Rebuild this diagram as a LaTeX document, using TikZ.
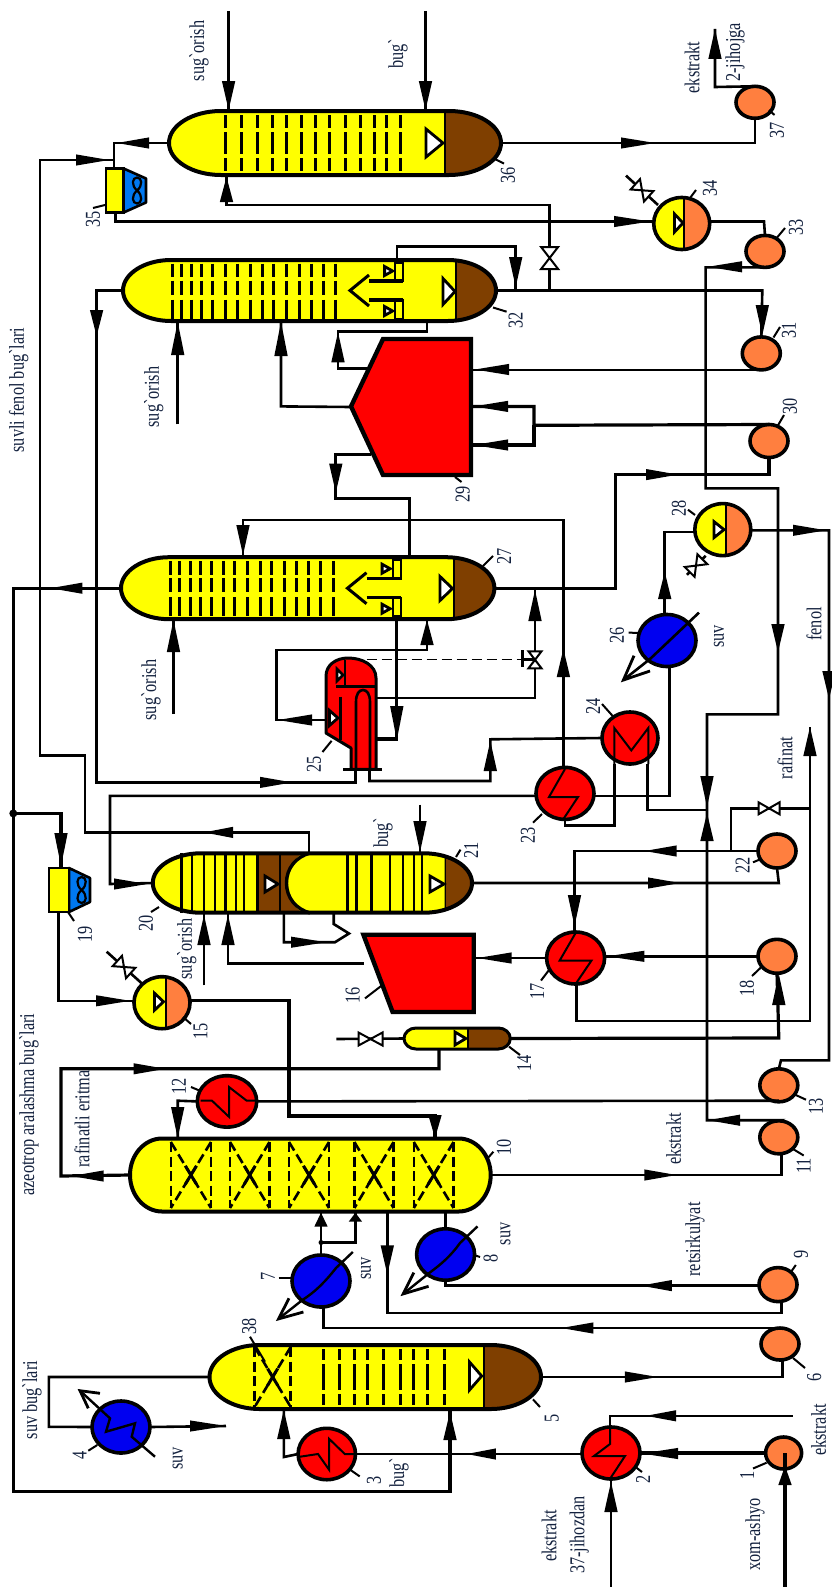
\documentclass[tikz,border=0pt]{standalone}
\usepackage{fontspec}
\usetikzlibrary{shapes.geometric,calc}
\newfontfamily\lblfont{Liberation Serif}
\definecolor{ycol}{HTML}{FFFF00}
\definecolor{bcol}{HTML}{7F3F00}
\definecolor{rcol}{HTML}{FF0000}
\definecolor{ocol}{HTML}{FF7F3F}
\definecolor{hblue}{HTML}{0000F0}
\definecolor{fblue}{HTML}{0078F0}
\definecolor{txtc}{HTML}{14223F}
\tikzset{
 pipe/.style={draw=black,line width=2.6pt,line join=miter},
 thinpipe/.style={draw=black,line width=2pt},
 fatpipe/.style={draw=black,line width=3.2pt},
 vline/.style={draw=black,line width=4pt,line join=round},
 anchorbox/.style={rectangle,inner sep=0pt,outer sep=0pt,draw=none},
 ballsty/.style={ellipse,inner sep=0pt,outer sep=0pt,draw=black,line width=3.6pt},
 tray/.style={line width=3pt,draw=black},
 packd/.style={line width=2.6pt,draw=black,dash pattern=on 10pt off 4.5pt},
 lbl/.style={rotate=90,yscale=1.3,font=\lblfont\fontsize{16.3}{16.3}\selectfont,text=txtc,inner sep=0pt,outer sep=0pt},
 leader/.style={draw=black,line width=2pt},
 tristy/.style={draw=black,fill=white,line width=2.8pt,line join=miter},
 zig/.style={draw=black,line width=2pt,line join=miter},
}
% arrow head: tip x, tip y, angle, length
\newcommand\ah[4]{\pgfmathsetmacro\ahw{5.6+abs(sin(#3))*1.1}\fill[black,shift={(#1,#2)},rotate=#3] (0,0) -- (-#4,\ahw) -- (-#4,-\ahw) -- cycle;}
% valve: x, y, angle, half length, half width
\newcommand\valve[5]{\draw[draw=black,fill=white,line width=2pt,line join=miter,shift={(#1,#2)},rotate=#3] (0,0) -- (-#4,#5) -- (-#4,-#5) -- cycle (0,0) -- (#4,#5) -- (#4,-#5) -- cycle;}
% vessel: name x1 x2 yc ry rx split
\newcommand\vesselbody[7]{%
 \pgfmathsetmacro\vA{#2+#6}\pgfmathsetmacro\vB{#3-#6}%
 \pgfmathsetmacro\vT{#4-#5}\pgfmathsetmacro\vBt{#4+#5}%
 \pgfmathsetmacro\vCa{#3-0.45*#6}\pgfmathsetmacro\vCb{#2+0.45*#6}%
 \pgfmathsetmacro\vUp{#4-0.55*#5}\pgfmathsetmacro\vDn{#4+0.55*#5}%
 \pgfmathsetmacro\vW{#3-#2}\pgfmathsetmacro\vH{2*#5}\pgfmathsetmacro\vCx{(#3+#2)/2}%
 \def\vpath{(\vA,\vT) -- (\vB,\vT) .. controls (\vCa,\vT) and (#3,\vUp) .. (#3,#4) .. controls (#3,\vDn) and (\vCa,\vBt) .. (\vB,\vBt) -- (\vA,\vBt) .. controls (\vCb,\vBt) and (#2,\vDn) .. (#2,#4) .. controls (#2,\vUp) and (\vCb,\vT) .. (\vA,\vT) -- cycle}%
 \fill[ycol] \vpath;
 \begin{scope}\clip \vpath; \fill[bcol] (#7,\vT) rectangle (#3,\vBt); \draw[line width=2pt] (#7,\vT) -- (#7,\vBt); \end{scope}
 \node[anchorbox,minimum width=\vW pt,minimum height=\vH pt] (#1) at (\vCx,#4) {};
}
\newcommand\trays[8]{\foreach \tx in {#1}{\foreach \ta/\tb in {#3/#4,#5/#6,#7/#8}{\draw[tray] (\tx,#2+\ta) -- (\tx,#2+\tb);}}}
\newcommand\solidtrays[3]{\foreach \tx in {#1}{\draw[line width=2.4pt] (\tx,#2) -- (\tx,#3);}}
\newcommand\tri[4]{\draw[tristy] (#1,#3-#4) -- (#2,#3) -- (#1,#3+#4) -- cycle;}
\newcommand\baffle[2]{%
 \draw[line width=2pt,fill=ycol] (#1-8,#2-28) rectangle (#1,#2-9.5);
 \draw[line width=2pt,fill=ycol] (#1-8,#2+9.5) rectangle (#1,#2+28);
 \draw[line width=3.2pt] (#1-34,#2-9.5) -- (#1,#2-9.5);
 \draw[line width=3.2pt] (#1-34,#2+9.5) -- (#1,#2+9.5);
 \draw[line width=3pt] (#1-34,#2-15.5) -- (#1-53,#2) -- (#1-34,#2+15.5);
 \tri{#1-18.4}{#1-10.4}{#2-19.5}{4.5}
 \tri{#1-18.4}{#1-10.4}{#2+20.5}{4.5}
}
\newcommand\packing[4]{% x1 x2 yc h
 \draw[packd] (#1,#3-#4) -- (#1,#3+#4);
 \draw[packd] (#2,#3-#4) -- (#2,#3+#4);
 \draw[packd] (#1,#3-#4) -- (#2,#3+#4);
 \draw[packd] (#2,#3-#4) -- (#1,#3+#4);
 \draw[line width=3pt] ($(#1,#3-#4)!0.36!(#2,#3+#4)$) -- ($(#1,#3-#4)!0.64!(#2,#3+#4)$);
 \draw[line width=3pt] ($(#2,#3-#4)!0.36!(#1,#3+#4)$) -- ($(#2,#3-#4)!0.64!(#1,#3+#4)$);
}
\newcommand\ball[6]{\pgfmathsetmacro\bW{2*#4}\pgfmathsetmacro\bH{2*#5}\node[ballsty,fill=#6,minimum width=\bW pt,minimum height=\bH pt] (#1) at (#2,#3) {};}
\newcommand\drum[6]{% name cx cy rx ry split
 \fill[ycol] (#2,#3) ellipse [x radius=#4pt,y radius=#5pt];
 \begin{scope}\clip (#2,#3) ellipse [x radius=#4pt,y radius=#5pt]; \fill[ocol] (#6,#3-#5) rectangle (#2+#4,#3+#5); \end{scope}
 \draw[line width=2pt] (#6,#3-#5) -- (#6,#3+#5);
 \pgfmathsetmacro\bW{2*#4}\pgfmathsetmacro\bH{2*#5}\node[ballsty,minimum width=\bW pt,minimum height=\bH pt] (#1) at (#2,#3) {};}
\newcommand\cooler[5]{% name, left, middle, right, yc
 \pgfmathsetmacro\cT{#5-22}\pgfmathsetmacro\cB{#5+22}\pgfmathsetmacro\cS{#5-12}\pgfmathsetmacro\cE{#5+12}%
 \draw[fill=fblue,line width=2.6pt,line join=round] (#3,\cT) -- (#4,\cS) -- (#4,\cE) -- (#3,\cB) -- cycle;
 \draw[fill=ycol,line width=2.6pt] (#2,\cT) rectangle (#3,\cB);
 \pgfmathsetmacro\cx{#3+(#4-#3)*0.6}%
 \draw[line width=2.2pt] (\cx,#5) .. controls (\cx+6,#5-5) and (\cx+5,#5-13) .. (\cx,#5-13) .. controls (\cx-5,#5-13) and (\cx-6,#5-5) .. (\cx,#5) .. controls (\cx+6,#5+5) and (\cx+5,#5+13) .. (\cx,#5+13) .. controls (\cx-5,#5+13) and (\cx-6,#5+5) .. (\cx,#5);
 \pgfmathsetmacro\cW{#4-#2}\pgfmathsetmacro\cM{(#4+#2)/2}%
 \node[anchorbox,minimum width=\cW pt,minimum height=44pt] (#1) at (\cM,#5) {};
}
\begin{document}
\begin{tikzpicture}[x=1pt,y=-1pt]
\useasboundingbox (0,0) rectangle (832,1587);
\fill[white] (0,0) rectangle (832,1587);

%%%%%%%% columns
% 36
\vesselbody{v36}{169}{501}{143}{32}{52}{444.5}
\trays{225,241,257,272,286.5,301,315,329,345,360,374,386,400}{143}{-28}{-15}{-11}{11}{15}{28}
\tri{426}{443}{143}{14}
\draw[vline] \vpath;
% 32
\vesselbody{v32}{123}{496}{290.5}{30.5}{48}{456}
\trays{172,181.4,191,201.6,212,225,237.7,250.4,262,273.7,286.5,299,311,323.6,335.3}{290.5}{-27}{-13.5}{-10}{4}{9}{28}
\baffle{403}{290.5}
\tri{443}{455}{291.5}{13}
\draw[vline] \vpath;
% 27
\vesselbody{v27}{121}{494.4}{588.2}{31}{48}{453.6}
\trays{170,179,190,200.5,211,223,234.5,247,260,271.6,284,296,308.7,320.4,333}{588.2}{-27}{-13.5}{-10}{4}{9}{28}
\baffle{400.5}{588.2}
\tri{440}{452.5}{588.5}{12}
\draw[vline] \vpath;
% 20/21
\vesselbody{v20}{152.8}{472}{883}{29.7}{48}{444.5}
\begin{scope}\clip \vpath;
 \fill[bcol] (257.3,850) rectangle (320,916);
 \fill[ycol] (318,850) .. controls (298,850) and (286.5,866) .. (286.5,883) .. controls (286.5,900) and (298,916) .. (318,916) -- (444.5,916) -- (444.5,850) -- cycle;
\end{scope}
\draw[line width=3.4pt] (310,853) .. controls (296,857) and (286.5,868) .. (286.5,883) .. controls (286.5,898) and (296,909) .. (310,913);
\draw[line width=2pt] (279.6,853.3) -- (279.6,912.7);
\draw[line width=2.6pt] (257.3,853.3) -- (257.3,912.7);
\solidtrays{181.4,192,203.7,214.9,225.5,236,244}{853.3}{912.7}
\solidtrays{347.5,356.5,371.4,390,403,413.8,421.7}{853.3}{912.7}
\tri{265}{278}{884}{8}
\tri{430}{444}{884}{8}
\draw[vline] \vpath;
% 10
\vesselbody{v10}{130}{490.7}{1175}{36.5}{32}{492}
\packing{170.8}{211}{1175}{33}
\packing{230}{269.5}{1175}{33}
\packing{289}{329}{1175}{33}
\packing{354.4}{393.6}{1175}{33}
\packing{413.8}{453.6}{1175}{33}
\draw[vline] \vpath;
% 5
\vesselbody{v5}{209.5}{541}{1377}{32}{50}{483.8}
\packing{254.6}{290.7}{1377}{30}
\trays{323.6,339.5,354.4,367,383,400.5,413.8,427,444.5}{1377}{-28}{-17}{-13}{13}{17}{28}
\tri{469.5}{481.7}{1376}{14}
\draw[vline] \vpath;
% 14
\vesselbody{v14}{404}{510.3}{1038.5}{10.5}{12}{468}
\tri{455}{465.8}{1038.5}{6.5}
\draw[line width=3pt] \vpath;

%%%%%%%% 29, 16
\draw[fill=rcol,line width=4.4pt,line join=miter] (351,406.4) -- (383,339) -- (471,339) -- (471,475) -- (383,475) -- cycle;
\node[anchorbox,minimum width=120pt,minimum height=136pt] (v29) at (411,407) {};
\draw[fill=rcol,line width=4.4pt,line join=miter] (363.4,934.7) -- (473.7,934.7) -- (473.7,1012) -- (392.6,1012) -- cycle;
\node[anchorbox,minimum width=110pt,minimum height=77pt] (v16) at (418.5,973.4) {};

%%%%%%%% 25
\draw[fill=rcol,line width=3pt,line join=round] (326,676) .. controls (326,665) and (336,658) .. (348,658) .. controls (362,658) and (376,665) .. (376,678) -- (376,769.3) -- (351,769.3) -- (351,748) -- (326,733) -- cycle;
\draw[line width=3.2pt] (336,686.7) -- (376,686.7);
\draw[line width=2.6pt] (345,660) -- (345,686.7);
\draw[line width=2.6pt,fill=white] (337,669) -- (343,675) -- (337,681) -- cycle;
\draw[line width=3pt] (340,696.7) -- (340,740);
\draw[line width=2.6pt] (356,769.3) -- (356,702) .. controls (356,694) and (359,690) .. (363,690) .. controls (367,690) and (370,694) .. (370,702) -- (370,769.3);
\tri{329.5}{338}{718}{7.5}
\draw[line width=3.2pt] (343.3,769.3) -- (381.7,769.3);
\node[anchorbox,minimum width=50pt,minimum height=111pt] (v25) at (351,714) {};

%%%%%%%% heat exchangers
\ball{e2}{611}{1453}{29}{26}{rcol}
\draw[zig] (610,1427) -- (610,1444) -- (594,1456) -- (625,1456) -- (610,1478.8);
\ball{e3}{326.8}{1454}{28.7}{25.7}{rcol}
\draw[zig] (298,1457) -- (318,1454) -- (329,1469.6) -- (329,1438.7) -- (344.8,1454) -- (355.4,1454);
\ball{e12}{227}{1101.4}{29.7}{25.7}{rcol}
\draw[zig] (200.5,1100.7) -- (212,1100.7) -- (229,1116.8) -- (229,1087) -- (246.7,1100.7) -- (256.8,1100.7);
\ball{e17}{575.6}{958}{29}{26}{rcol}
\draw[zig] (575.6,933) -- (559.7,960.5) -- (591.5,960.5) -- (575.6,984);
\ball{e23}{565}{793.4}{29}{26}{rcol}
\draw[zig] (565,769) -- (549,797) -- (578,797) -- (563.4,819);
\ball{e24}{630}{738}{28}{26}{rcol}
\draw[zig] (614.3,764) -- (614.3,728) -- (631.3,750.4) -- (648.3,728) -- (648.3,764);
\ball{e4}{121}{1427}{29}{26}{hblue}
\ball{e7}{321}{1281}{29}{26}{hblue}
\ball{e8}{445.6}{1254.5}{29}{25.7}{hblue}
\ball{e26}{667}{640.5}{29}{26}{hblue}
% internals of water coolers with their open arrows
\draw[zig,line width=2.4pt] (80,1390.7) -- (110,1418.3) -- (106,1431.7) -- (135,1423.3) -- (131.7,1436.7) -- (155,1456.7);
\draw[line width=2.8pt] (100,1393.3) -- (80,1390.7) -- (88.3,1408.3);
\draw[line width=2.4pt] (352.8,1252) -- (336,1268) .. controls (325,1282) and (315,1292) .. (302.4,1300) -- (278.5,1318.9);
\draw[line width=2.8pt] (289,1298.3) -- (278.5,1318.9) -- (303.4,1312);
\draw[line width=2.4pt] (477.5,1226.4) -- (460,1243) .. controls (450,1257) and (440,1265) .. (429.7,1272.6) -- (403.2,1293.9);
\draw[line width=2.8pt] (413.8,1272.6) -- (403.2,1293.9) -- (428.6,1286.3);
\draw[line width=2.6pt] (699,612.6) -- (650,659) -- (623.4,680);
\draw[line width=2.8pt] (634,655.7) -- (623.4,680) -- (650,671);

%%%%%%%% drums
\drum{d34}{681.7}{223.5}{28}{26}{684}
\tri{674.5}{683}{223}{9}
\drum{d28}{722.8}{529.6}{28}{26}{725.7}
\tri{714}{724}{529.6}{8}
\drum{d15}{162}{1002.7}{28}{26}{165.5}
\tri{154.5}{163.5}{1001.7}{8.5}

%%%%%%%% pumps
\ball{p1}{783.6}{1453}{18}{16}{ocol}
\ball{p6}{780}{1344}{19}{16}{ocol}
\ball{p9}{778}{1284.6}{19}{17}{ocol}
\ball{p11}{778.8}{1137.3}{19}{16.5}{ocol}
\ball{p13}{778.8}{1085.3}{19}{16.5}{ocol}
\ball{p18}{777}{956.3}{19}{17}{ocol}
\ball{p22}{777}{851}{19}{17}{ocol}
\ball{p30}{769}{441}{19}{16.5}{ocol}
\ball{p31}{761.3}{353.4}{19}{16.5}{ocol}
\ball{p33}{765}{251.4}{19}{16}{ocol}
\ball{p37}{755}{102.3}{19}{16}{ocol}

%%%%%%%% air coolers
\cooler{c35}{106}{123.6}{146}{190.5}
\cooler{c19}{49}{69}{90}{890}

%%%%%%%% free ends
\coordinate (f1) at (228.6,11);
\coordinate (f2) at (425.5,11);
\coordinate (f3) at (177.7,424.3);
\coordinate (f4) at (173.5,714.2);
\coordinate (f5) at (420,804.5);
\coordinate (f6) at (204,985.3);
\coordinate (f7) at (226,1426);
\coordinate (f8) at (793,1415.8);
\coordinate (f9) at (611,1587);
\coordinate (f10) at (785,1587);
\coordinate (f11) at (715,29);
\coordinate (j1) at (13.3,813.4);
\coordinate (j2) at (321,1242.5);

%%%%%%%% connectors
% top of 36
\draw[pipe] (f1) -- (228.6,0 |- v36.north); \ah{228.6}{110}{-90}{29}
\draw[pipe] (f2) -- (425.5,0 |- v36.north); \ah{425.5}{110}{-90}{29}
\draw[pipe] (v36.west) -- (114,143) -- (c35.north -| 114,0); \ah{117}{143}{180}{32}
\draw[pipe] (114,160) -- (40,160) -- (40,755.6) -- (85,755.6) -- (85,832.4) -- (309,832.4) -- (309,0 |- v20.north); \ah{109}{160}{0}{33} \ah{204}{832.4}{180}{29}
\draw[pipe] (115.6,213) -- (115.6,221.5) -- (d34.west |- 0,221.5); \ah{650}{221.5}{0}{36}
\draw[pipe] (d34.east |- 0,221.5) -- (764,221.5) -- (p33.north); 
\draw[pipe] (p33.south) -- (705.6,267.4) -- (705.6,488.3) -- (778,488.3) -- (778,714.3) -- (707,714.3) -- (707,1120.2) -- (780,1120.2) -- (p11.north); \ah{708}{266.8}{180}{34} \ah{778}{652}{-90}{28} \ah{707}{807}{-90}{31} \ah{707}{813}{90}{28} \ah{708}{1120.2}{180}{32}
\draw[pipe] (v36.east) -- (755,143) -- (p37.south); \ah{655}{143}{0}{34}
\draw[pipe] (p37.north) -- (715,87) -- (f11); \ah{715}{29}{90}{30}
\draw[pipe] (226.5,176) -- (226.5,205) -- (549.6,205) -- (549.6,291); \ah{226.5}{177}{90}{25}
% 32
\draw[pipe] (396.8,260) -- (396.8,246.6) -- (515.7,246.6) -- (515.7,290.5); \ah{515.7}{287}{-90}{30}
\draw[fatpipe] (v32.west) -- (96.6,290.5) -- (96.6,782.4) -- (355.7,782.4) -- (355.7,769.4); \ah{96.6}{336}{-90}{26} \ah{292}{782.4}{0}{32}
\draw[pipe] (v32.east) -- (762.3,290.5) -- (p31.north); \ah{762.3}{335}{-90}{30}
\draw[pipe] (p31.south) -- (v29.east |- p31.south); \ah{475}{369.5}{180}{34}
\draw[pipe] (f3) -- (177.7,0 |- v32.south); \ah{177.7}{322}{90}{33}
\draw[pipe] (281,321) -- (281,406.4) -- (v29.west); \ah{281}{322}{90}{34}
\draw[pipe] (427,321) -- (427,331.3) -- (338,331.3) -- (338,368.5) -- (368.7,368.5); \ah{338}{332.3}{90}{30}
\draw[fatpipe] (371,454.6) -- (335.8,454.6) -- (335.8,498.7) -- (409.5,498.7) -- (409.5,0 |- v27.north); \ah{335.8}{492.5}{-90}{29}
\draw[fatpipe] (p30.north) -- (534,425.3) -- (534,406.4) -- (v29.east |- 0,406.4); \ah{474}{406.4}{180}{34}
\draw[fatpipe] (534,425.3) -- (534,445) -- (v29.east |- 0,445); \ah{474}{445}{180}{34}
\draw[fatpipe] (v27.east) -- (615.4,588.2) -- (615.4,474.6) -- (769,474.6) -- (p30.south); \ah{678}{474.6}{0}{32}
% 27
\draw[pipe] (243,556) -- (243,520) -- (563.4,520) -- (e23.north -| 563.4,0); \ah{243}{555}{-90}{30} \ah{563.4}{649}{90}{28}
\draw[fatpipe] (396.8,619.5) -- (396.8,739) -- (376,739); \ah{396.8}{740}{-90}{34}
\draw[pipe] (427,620) -- (427,650) -- (276.7,650) -- (276.7,720) -- (325,720); \ah{427}{620}{90}{25} \ah{278}{720}{180}{34}
\draw[thinpipe] (535,588.2) -- (535,697.7) -- (376,697.7); \ah{535}{590}{90}{31}
\draw[line width=1.4pt,dash pattern=on 10pt off 5pt] (366.7,659.3) -- (522.7,659.3);
\draw[line width=2.6pt] (522.7,650) -- (522.7,667.3) (522.7,659.3) -- (535,659.3);
\valve{535}{659.8}{90}{8.5}{6.5}
\draw[pipe] (f4) -- (173.5,0 |- v27.south); \ah{173.5}{620}{90}{32}
\draw[fatpipe] (v27.west) -- (13.3,588.2) -- (13.3,1491.8) -- (450,1491.8) -- (450,1411); \ah{50.4}{588.2}{180}{32} \ah{450}{1412}{90}{28}
\fill (j1) circle (4pt);
\draw[fatpipe] (j1) -- (61,813.4) -- (c19.north -| 61,0); \ah{61}{866}{-90}{33}
% 25 bottom
\draw[pipe] (369.5,769.4) -- (369.5,781) -- (490.3,781) -- (490.3,739.3) -- (e24.west); \ah{490.3}{741}{90}{30}
% 24
\draw[pipe] (614.3,764) -- (614.3,825.5) -- (565,825.5) -- (565,819);
\draw[pipe] (647.2,764) -- (647.2,810) -- (707,810);
% 23
\draw[pipe] (e23.west |- 0,795.9) -- (110,795.9) -- (110,884) -- (v20.west); \ah{147}{884}{0}{33}
\draw[pipe] (e23.east |- 0,795.9) -- (669.5,795.9) -- (e26.south -| 669.5,0);
% 26 / 28
\draw[pipe] (664.7,614.5) -- (664.7,532) -- (d28.west |- 0,532); \ah{664.7}{572}{90}{27}
\draw[pipe] (d28.east |- 0,530.3) -- (829,530.3) -- (829,1060.3) -- (781,1060.3) -- (p13.north); \ah{826}{530.3}{0}{33} \ah{829}{699}{-90}{28}
% 21
\draw[pipe] (f5) -- (420,0 |- v20.north); \ah{420}{852}{-90}{31}
\draw[pipe] (v20.east) -- (778.8,883) -- (p22.south); \ah{680}{883}{0}{32}
\draw[pipe] (p22.west) -- (574.5,851) -- (e17.north -| 574.5,0); \ah{644.6}{851}{180}{32} \ah{574.5}{926}{-90}{31}
\draw[pipe] (810,727) -- (810,1020.8) -- (576.7,1020.8) -- (e17.south -| 576.7,0); \ah{810}{727}{90}{29}
\draw[pipe] (810,808.3) -- (731,808.3) -- (731,851);
\valve{769}{808.3}{0}{10.5}{6}
% 20 bottom
\draw[pipe] (f6) -- (204,0 |- v20.south); \ah{204}{915}{90}{30}
\draw[pipe] (v16.west |- 0,963.2) -- (228,963.2) -- (228,913); \ah{228}{915}{90}{30}
\draw[pipe] (283.8,913) -- (283.8,942.2) -- (335,942.2) -- (349,933.5) -- (333.7,924) -- (333.7,914); \ah{326}{942.2}{0}{35}
% 15, 19
\draw[pipe] (58.4,911.6) -- (58.4,1000.8) -- (d15.west |- 0,1000.8); \ah{130}{1000.8}{0}{34}
\draw[fatpipe] (d15.east |- 0,1000.8) -- (289,1000.8) -- (289,1116) -- (435,1116) -- (435,0 |- v10.north); \ah{435}{1138}{-90}{23}
% 16,17,18
\draw[pipe] (e17.west) -- (473.7,958); \ah{477.5}{958}{180}{34}
\draw[fatpipe] (p18.west) -- (e17.east |- p18.west); \ah{607.4}{956.3}{180}{37}
\draw[fatpipe] (v14.east) -- (778.8,1038) -- (p18.south); \ah{778.8}{974}{90}{31}
% 14
\coordinate (f12) at (336.3,1039);
\draw[pipe] (f12) -- (v14.west);
\valve{370.5}{1039}{0}{12}{6.5}
\draw[fatpipe] (439,1049) -- (439,1068.8) -- (61,1068.8) -- (61,1176) -- (v10.west); \ah{165.5}{1068.8}{0}{32} \ah{71.6}{1176}{180}{32}
% 12, 13
\draw[pipe] (e12.west) -- (177.7,1100.7) -- (177.7,0 |- v10.north); \ah{177.7}{1138}{-90}{31}
\draw[pipe] (e12.east) -- (778.8,1100.7);
% 11
\draw[pipe] (v10.east) -- (781.4,1175) -- (781.4,1153.4); \ah{676.4}{1175}{0}{32}
% under 10
\draw[pipe] (e7.north) -- (321,0 |- v10.south); \ah{321}{1212.7}{90}{14}
\draw[pipe] (j2) -- (355.4,1242.5) -- (355.4,0 |- v10.south); \ah{355.4}{1212.7}{90}{9}
\fill (j2) circle (2.5pt);
\draw[pipe] (387.3,1211.7) -- (387.3,1313) -- (781.4,1313) -- (781.4,1301.7); \ah{387.3}{1274.3}{-90}{29}
\draw[pipe] (445.6,1211.7) -- (e8.north);
\draw[pipe] (323.6,1307) -- (323.6,1328) -- (p6.north -| 784,0); \ah{561.3}{1328}{180}{32}
\draw[fatpipe] (445.6,1280) -- (445.6,1285.6) -- (p9.west |- 0,1285.6); \ah{640.8}{1285.6}{180}{31}
% 5
\draw[pipe] (v5.west) -- (48.8,1377) -- (48.8,1426.8) -- (e4.west); 
\draw[pipe] (v5.east) -- (782.5,1377) -- (782.5,1360); \ah{657.8}{1377}{0}{33}
\draw[pipe] (283.8,1409.6) -- (283.8,1457) -- (e3.west); \ah{283.8}{1410}{90}{29}
\draw[pipe] (e4.east) -- (f7); \ah{226}{1426}{0}{36}
\draw[pipe] (e3.east) -- (e2.west |- e3.east); \ah{466.8}{1454}{180}{29}
\draw[pipe] (610,1426.8) -- (610,1415.8) -- (f8); \ah{646}{1415.8}{180}{30}
\draw[pipe] (f9) -- (e2.south); \ah{611}{1482}{90}{30}
\draw[fatpipe] (p1.west) -- (e2.east); \ah{642}{1453.5}{180}{36}
\draw[fatpipe] (f10) -- (785,1453); \ah{785}{1466}{90}{19}

%%%%%%%% relief valves
\draw[pipe] (658,205) -- (626,175.6); \valve{642}{190.3}{-42}{9}{7}
\draw[pipe] (705.6,555.8) -- (687,574.8); \valve{696}{565.6}{45}{9}{7}
\draw[pipe] (141.7,983.3) -- (106.7,951.7); \valve{124}{967}{-42}{9}{7}
\valve{549.6}{258}{90}{11}{8.5}

%%%%%%%% leaders
\foreach \a/\b/\c/\d in {
 493/158/504/163.6, 769/110/774.5/115, 690/198/696/190, 777/237.6/785/228, 93/208/105/205,
 493/307.5/506.6/311.7, 773.5/337.5/780/327, 455/477/461.5/482, 777/427/784/415, 688/509.7/695/515,
 331.6/740.8/322.5/752, 602/704/612.7/716, 542/814/533/822.7, 628.6/632.6/639/633, 456/857/460.5/849.6,
 151/912/159/907, 753/862.3/761/859, 68/912/74/921, 183/1017/191/1024, 382/985.3/365/998.4,
 549/970/541/980.5, 761/967.4/752/976, 509/1046.6/520/1055, 191/1087/200.5/1091, 794.7/1094.5/806/1099.7,
 793/1149/803.7/1155.5, 487/1159/493.4/1151.7, 790.5/1272.6/795.8/1265, 278.5/1277.8/291.8/1277.8,
 474/1255/480/1257, 793/1358/805/1368, 533/1399.4/540/1407, 250/1336.7/265/1361.7, 350/1469.6/359.7/1476.4,
 88.3/1450.7/97.3/1445, 636.6/1467.8/642/1472, 753/1468.5/766.6/1462.7, 483/566/493/556}
 {\draw[leader] (\a,\b) -- (\c,\d);}

%%%%%%%% numbers
\foreach \nm/\x/\y/\t in {
 n1/747/1475.4/1, n2/643/1479.8/2, n3/374/1480/3, n4/79.6/1455.9/4, n5/551.7/1418.9/5, n6/814.3/1377.8/6,
 n7/268/1276/7, n8/490.7/1258/8, n9/801/1254.5/9, n10/504/1147.6/10, n11/803.7/1165.8/11, n12/178.8/1086/12,
 n13/816/1106.5/13, n14/524/1063.8/14, n15/200.5/1031/15, n16/352.8/995.6/16, n17/537/991.5/17, n18/747/988.7/18,
 n19/85/934.7/19, n20/146/923.6/20, n21/471/850/21, n22/742.7/865.8/22, n23/528/835/23, n24/593/706/24,
 n25/314/764/25, n26/617/635/26, n27/504/556/27, n28/679/508/28, n29/462.6/494/29, n30/790/406.4/30,
 n31/789/330/31, n32/515.6/320/32, n33/796/227/33, n34/710/188/34, n35/93/219/35, n36/508/175.6/36,
 n37/777/130/37, n38/249.3/1326.7/38}
 {\node[lbl] (\nm) at (\x,\y) {\t};}

%%%%%%%% texts
\node[lbl] (t1) at (199,51) {sug`orish};
\node[lbl] (t2) at (398,54) {bug`};
\node[lbl] (t3) at (692,67.5) {ekstrakt};
\node[lbl] (t4) at (735,52.5) {2-jihojga};
\node[lbl] (t5) at (18.6,390) {suvli fenol bug`lari};
\node[lbl] (t6) at (153.8,397) {sug`orish};
\node[lbl] (t7) at (151,690) {sug`orish};
\node[lbl] (t8) at (719,636.5) {suv};
\node[lbl] (t9) at (814,624) {fenol};
\node[lbl] (t10) at (785,758) {rafinat};
\node[lbl] (t11) at (383,833) {bug`};
\node[lbl] (t12) at (186.7,949) {sug`orish};
\node[lbl] (t13) at (29,1104.6) {azeotrop aralashma bug`lari};
\node[lbl] (t14) at (82,1119) {rafinatli eritma};
\node[lbl] (t15) at (673.7,1139) {ekstrakt};
\node[lbl] (t16) at (695,1239.5) {retsirkulyat};
\node[lbl] (t17) at (366,1268.5) {suv};
\node[lbl] (t18) at (505.6,1234) {suv};
\node[lbl] (t19) at (32,1400) {suv bug`lari};
\node[lbl] (t20) at (177.7,1458.5) {suv};
\node[lbl] (t21) at (399,1473) {bug`};
\node[lbl] (t22) at (818.6,1430) {ekstrakt};
\node[lbl] (t23) at (549,1536) {ekstrakt};
\node[lbl] (t24) at (579.3,1535) {37-jihozdan};
\node[lbl] (t25) at (755,1534.6) {xom-ashyo};
\end{tikzpicture}
\end{document}
